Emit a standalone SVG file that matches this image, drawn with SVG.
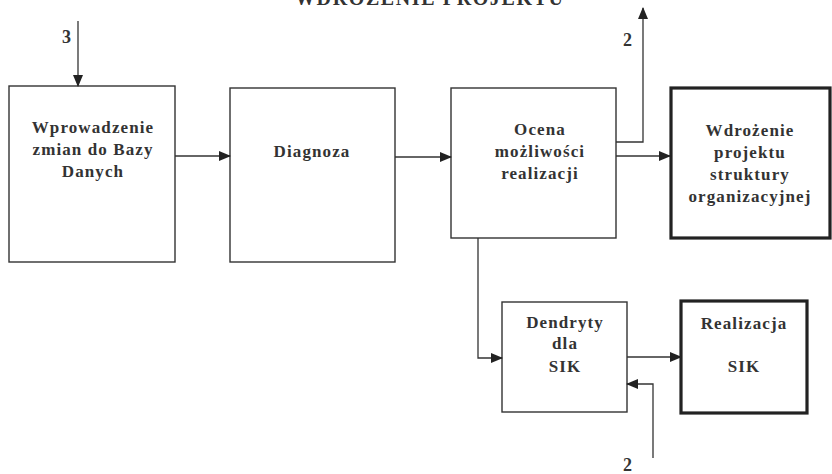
<svg xmlns="http://www.w3.org/2000/svg" width="832" height="474" viewBox="0 0 832 474">
<style>
.box{fill:#fff;stroke:#333;stroke-width:1.4}
.bold{fill:#fff;stroke:#222;stroke-width:3.2}
.t{font-family:"Liberation Serif","Times New Roman",serif;font-weight:bold;font-size:17px;fill:#333;text-anchor:middle;letter-spacing:1.1px}
.c{fill:none;stroke:#333;stroke-width:1.3}
</style>
<defs>
<marker id="ah" markerWidth="12" markerHeight="10" refX="11" refY="5" orient="auto" markerUnits="userSpaceOnUse">
<path d="M0,0 L12,5 L0,10 Z" fill="#222"/>
</marker>
</defs>
<text class="t" x="429" y="5" style="font-size:20px;letter-spacing:0" textLength="268" lengthAdjust="spacing">WDROŻENIE PROJEKTU</text>
<g id="n1">
<rect class="box" x="9" y="86" width="166" height="176"/>
<text class="t" x="93" y="133">Wprowadzenie</text>
<text class="t" x="93" y="155">zmian do Bazy</text>
<text class="t" x="93" y="177">Danych</text>
</g>
<g id="n2">
<rect class="box" x="230" y="88" width="165" height="174"/>
<text class="t" x="312" y="157">Diagnoza</text>
</g>
<g id="n3">
<rect class="box" x="451" y="88" width="165" height="150"/>
<text class="t" x="540" y="135">Ocena</text>
<text class="t" x="540" y="157">możliwości</text>
<text class="t" x="540" y="179">realizacji</text>
</g>
<g id="n4">
<rect class="bold" x="671" y="88" width="159" height="150"/>
<text class="t" x="750" y="136">Wdrożenie</text>
<text class="t" x="750" y="158">projektu</text>
<text class="t" x="750" y="180">struktury</text>
<text class="t" x="750" y="202">organizacyjnej</text>
</g>
<g id="n5">
<rect class="box" x="502" y="302" width="125" height="110"/>
<text class="t" x="565" y="328">Dendryty</text>
<text class="t" x="565" y="349">dla</text>
<text class="t" x="565" y="372">SIK</text>
</g>
<g id="n6">
<rect class="bold" x="681" y="301" width="126" height="112"/>
<text class="t" x="744" y="329">Realizacja</text>
<text class="t" x="744" y="372">SIK</text>
</g>
<g id="connectors">
<path class="c" d="M78,21 V86" marker-end="url(#ah)"/>
<path class="c" d="M175,156 H230" marker-end="url(#ah)"/>
<path class="c" d="M395,157 H451" marker-end="url(#ah)"/>
<path class="c" d="M616,156 H670" marker-end="url(#ah)"/>
<path class="c" d="M616,142 H643 V8" marker-end="url(#ah)"/>
<path class="c" d="M478,238 V358 H502" marker-end="url(#ah)"/>
<path class="c" d="M627,357 H681" marker-end="url(#ah)"/>
<path class="c" d="M653,458 V384 H627" marker-end="url(#ah)"/>
</g>
<g id="labels">
<text class="t" x="67" y="43" style="font-size:18px">3</text>
<text class="t" x="628" y="46" style="font-size:18px">2</text>
<text class="t" x="628" y="471" style="font-size:18px">2</text>
</g>
</svg>
